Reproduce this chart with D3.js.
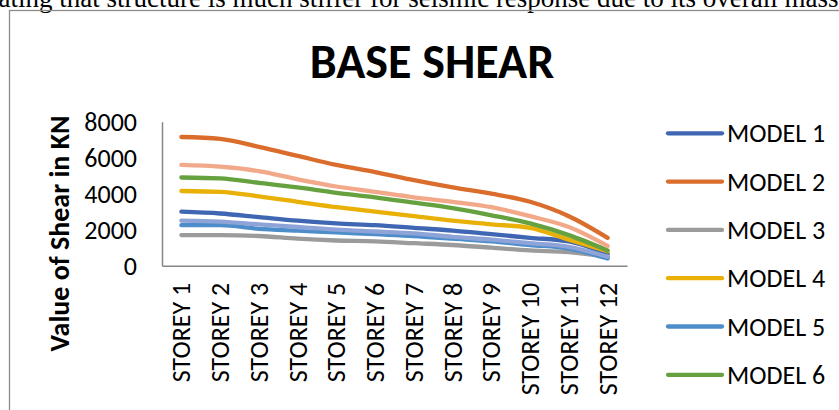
<!DOCTYPE html>
<html><head><meta charset="utf-8">
<script src="https://cdn.jsdelivr.net/npm/d3@7"></script>
<style>
html,body{margin:0;padding:0;background:#fff;overflow:hidden;}
svg{display:block;}
</style></head>
<body>
<svg id="chart" width="839" height="410"></svg>
<script>
const categories = ["STOREY 1","STOREY 2","STOREY 3","STOREY 4","STOREY 5","STOREY 6","STOREY 7","STOREY 8","STOREY 9","STOREY 10","STOREY 11","STOREY 12"];
const seriesNames = ["MODEL 1","MODEL 2","MODEL 3","MODEL 4","MODEL 5","MODEL 6","MODEL 7","MODEL 8"];
const model1 = [3000, 2900, 2700, 2500, 2350, 2250, 2100, 1950, 1750, 1550, 1350, 650];
const model2 = [7150, 7050, 6600, 6100, 5600, 5200, 4750, 4350, 4000, 3550, 2750, 1550];
const model3 = [1700, 1700, 1650, 1500, 1400, 1350, 1250, 1150, 1000, 850, 750, 500];
const model4 = [4150, 4100, 3850, 3550, 3250, 3000, 2750, 2500, 2300, 2100, 1450, 800];
const model5 = [2250, 2250, 2050, 1950, 1850, 1750, 1650, 1500, 1350, 1150, 950, 400];
const model6 = [4900, 4850, 4600, 4350, 4050, 3800, 3500, 3200, 2800, 2350, 1700, 850];
const model7 = [2500, 2450, 2300, 2150, 2000, 1900, 1800, 1600, 1450, 1250, 1050, 500];
const model8 = [5600, 5500, 5250, 4800, 4400, 4100, 3800, 3550, 3250, 2750, 2150, 1100];
const yTicks = [0, 2000, 4000, 6000, 8000];
const colors = ["#3F66B3","#DA6C2C","#9B9B9B","#E9B107","#4D8DC9","#65A23F","#8EA3D7","#F2A98A"];
const titleText = "BASE SHEAR";
const yTitle = "Value of Shear in KN";
const bodyText = "uating that structure is much stiffer for seismic response due to its overall mass";

const allSeries = [model1, model2, model3, model4, model5, model6, model7, model8];
const FONT = "Carlito, Calibri, Lato, sans-serif";

const svg = d3.select("#chart");

// surrounding document text (cut off at top)
svg.append("text").attr("x", -15).attr("y", 6.5)
  .attr("font-family", "'Liberation Serif', 'Times New Roman', serif")
  .attr("font-size", 27).attr("fill", "#000").text(bodyText);

// chart border
svg.append("rect").attr("x", 9.5).attr("y", 10.5).attr("width", 900).attr("height", 500)
  .attr("fill", "none").attr("stroke", "#8c8c8c").attr("stroke-width", 1.3);

const plot = {left: 162, right: 627, top: 121.7, bottom: 265.7};

const x = d3.scaleBand().domain(categories).range([plot.left, plot.right]);
const y = d3.scaleLinear().domain([0, 8000]).range([plot.bottom, plot.top]);

// title
svg.append("text").attr("x", 432).attr("y", 78).attr("text-anchor", "middle")
  .attr("font-family", FONT).attr("font-weight", "bold").attr("font-size", 48)
  .attr("fill", "#000").text(titleText);

// y axis
const yAxis = d3.axisLeft(y).tickValues(yTicks).tickSize(0).tickPadding(25).tickFormat(d3.format("d"));
const gy = svg.append("g").attr("transform", `translate(${plot.left},0)`).call(yAxis);
gy.select(".domain").attr("stroke", "#868686").attr("stroke-width", 1.5);
gy.selectAll("text").attr("font-family", FONT).attr("font-size", 26).attr("fill", "#000");

// x axis
const xAxis = d3.axisBottom(x).tickSize(0).tickFormat(d => d);
const gx = svg.append("g").attr("transform", `translate(0,${plot.bottom})`).call(xAxis);
gx.select(".domain").attr("stroke", "#868686").attr("stroke-width", 1.5);
gx.selectAll("text")
  .attr("font-family", FONT).attr("font-size", 26).attr("fill", "#000")
  .attr("text-anchor", "end")
  .attr("transform", "translate(0,17) rotate(-90)")
  .attr("x", 0).attr("y", 0).attr("dy", "0.35em");

// y title
svg.append("text").attr("transform", "translate(59,233.5) rotate(-90)")
  .attr("text-anchor", "middle").attr("dy", "0.35em")
  .attr("font-family", FONT).attr("font-weight", "bold").attr("font-size", 28)
  .attr("fill", "#000").text(yTitle);

// lines
const line = d3.line()
  .x((d, i) => x(categories[i]) + x.bandwidth() / 2)
  .y(d => y(d))
  .curve(d3.curveMonotoneX);

svg.append("g").selectAll("path").data(allSeries).join("path")
  .attr("d", d => line(d))
  .attr("fill", "none")
  .attr("stroke", (d, i) => colors[i])
  .attr("stroke-width", 4.3)
  .attr("stroke-linecap", "round")
  .attr("stroke-linejoin", "round");

// legend
const lg = svg.append("g");
seriesNames.forEach((name, i) => {
  const ly = 133.3 + i * 48.3;
  lg.append("line").attr("x1", 668).attr("x2", 722).attr("y1", ly).attr("y2", ly)
    .attr("stroke", colors[i]).attr("stroke-width", 4.3).attr("stroke-linecap", "round");
  lg.append("text").attr("x", 727).attr("y", ly).attr("dy", "0.35em")
    .attr("font-family", FONT).attr("font-size", 26).attr("fill", "#000").text(name);
});
</script>
</body></html>
